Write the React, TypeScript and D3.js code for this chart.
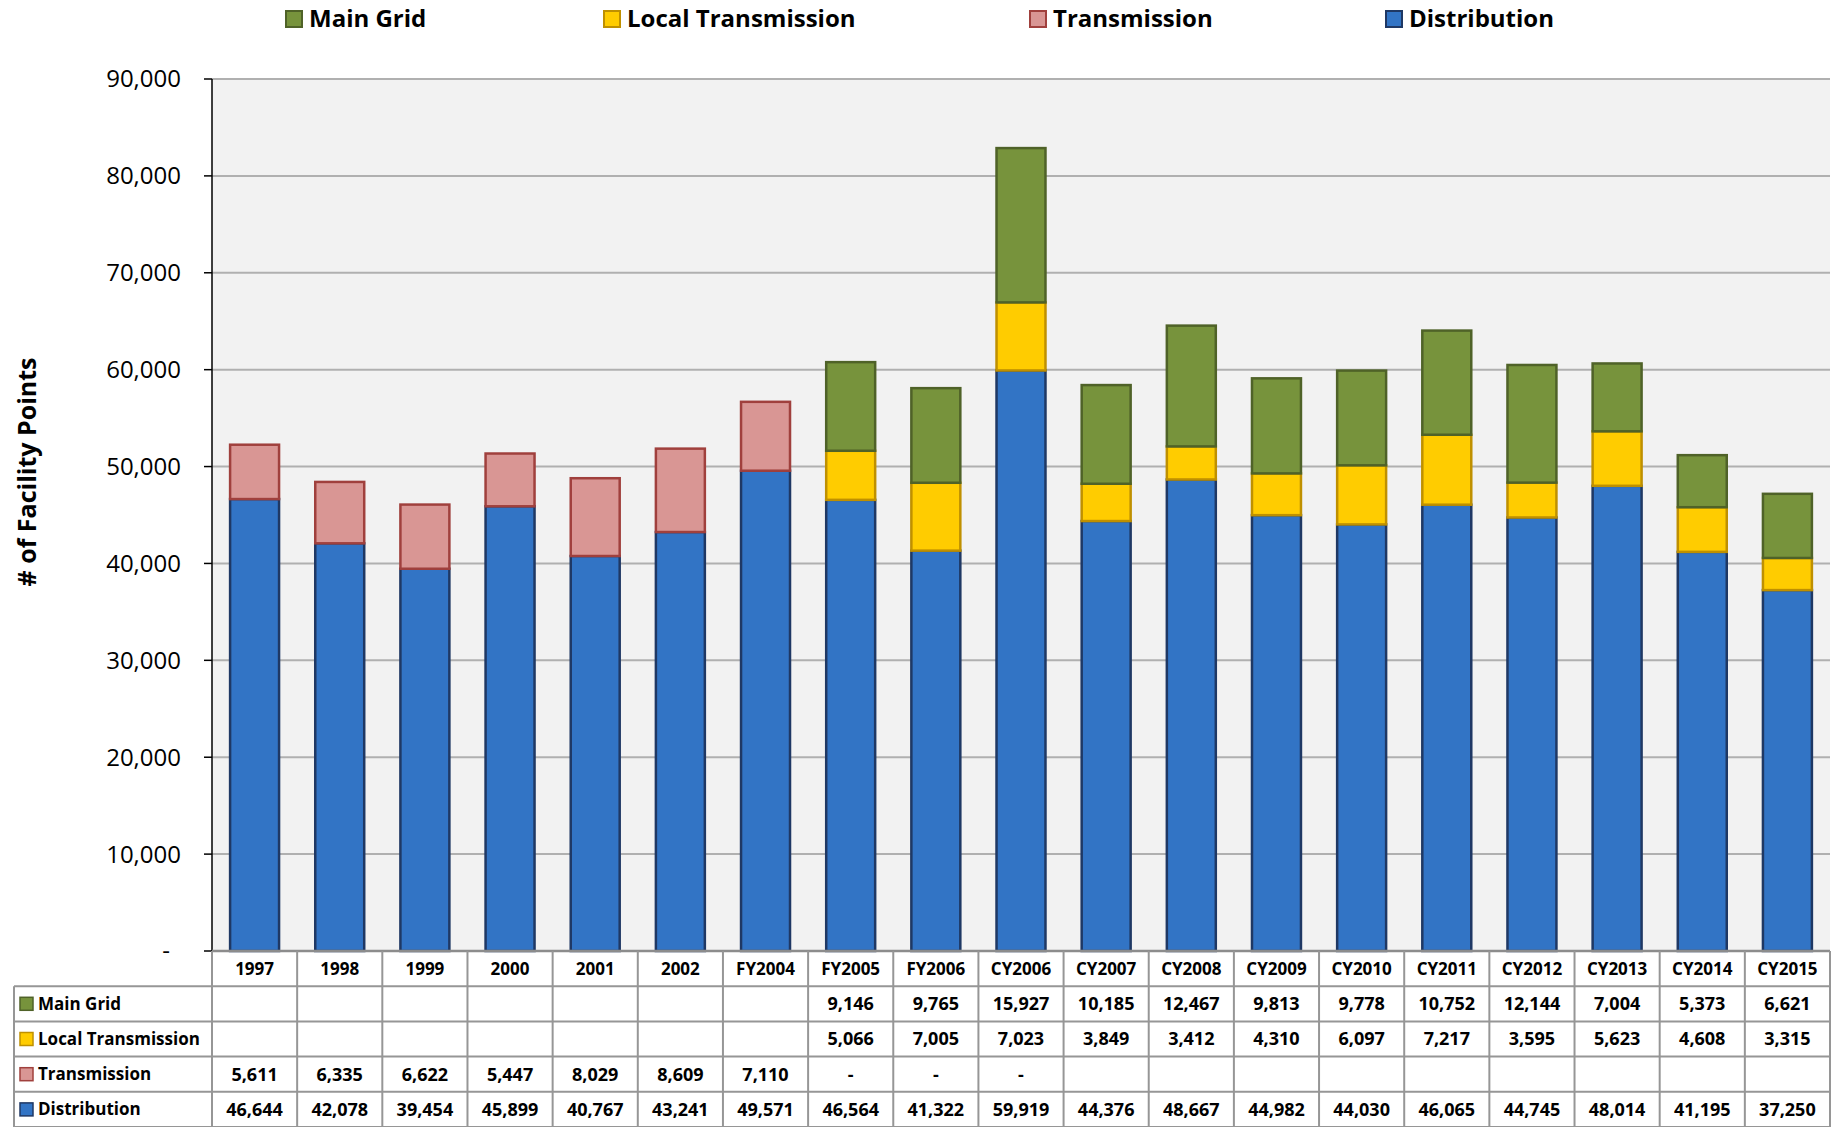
import * as d3 from 'd3';
import React from 'react';

const categories = [
  '1997', '1998', '1999', '2000', '2001', '2002', 'FY2004', 'FY2005', 'FY2006', 'CY2006',
  'CY2007', 'CY2008', 'CY2009', 'CY2010', 'CY2011', 'CY2012', 'CY2013', 'CY2014', 'CY2015',
];
// null = empty table cell, 0 = shown as "-"
const mainGrid = [null, null, null, null, null, null, null, 9146, 9765, 15927, 10185, 12467, 9813, 9778, 10752, 12144, 7004, 5373, 6621];
const localTransmission = [null, null, null, null, null, null, null, 5066, 7005, 7023, 3849, 3412, 4310, 6097, 7217, 3595, 5623, 4608, 3315];
const transmission = [5611, 6335, 6622, 5447, 8029, 8609, 7110, 0, 0, 0, null, null, null, null, null, null, null, null, null];
const distribution = [46644, 42078, 39454, 45899, 40767, 43241, 49571, 46564, 41322, 59919, 44376, 48667, 44982, 44030, 46065, 44745, 48014, 41195, 37250];
const yTicks = [0, 10000, 20000, 30000, 40000, 50000, 60000, 70000, 80000, 90000];

const series = [
  { key: 'mainGrid', name: 'Main Grid', values: mainGrid, fill: '#77933c', stroke: '#4f6228' },
  { key: 'localTransmission', name: 'Local Transmission', values: localTransmission, fill: '#ffcc00', stroke: '#bf9000' },
  { key: 'transmission', name: 'Transmission', values: transmission, fill: '#d99694', stroke: '#a0403d' },
  { key: 'distribution', name: 'Distribution', values: distribution, fill: '#3274c5', stroke: '#1f3864' },
];
const stackOrder = ['distribution', 'transmission', 'localTransmission', 'mainGrid'];

const W = 1845;
const H = 1127;
const left = 212;
const right = 1830;
const top = 79;
const bottom = 951;
const rowH = 35.2;
const FONT = '"Open Sans", "DejaVu Sans", sans-serif';

export default function App() {
  const x = d3.scaleBand().domain(categories).range([left, right]).paddingInner(0.425).paddingOuter(0.2125);
  const y = d3.scaleLinear().domain([0, 90000]).range([bottom, top]);
  const step = x.step();
  const cellLeft = (c) => x(c) - (step - x.bandwidth()) / 2;
  const fmt = d3.format(',');

  const rows = categories.map((c, i) => {
    const r = { cat: c };
    series.forEach((s) => (r[s.key] = s.values[i] || 0));
    return r;
  });
  const stacked = d3.stack().keys(stackOrder)(rows);
  const byKey = Object.fromEntries(series.map((s) => [s.key, s]));

  const legendItems = [
    { s: series[0], x: 286 },
    { s: series[1], x: 604 },
    { s: series[2], x: 1030 },
    { s: series[3], x: 1386 },
  ];

  return (
    <svg width={W} height={H} style={{ position: 'absolute', left: 0, top: 0, background: '#fff' }} fontFamily={FONT}>
      {/* legend */}
      {legendItems.map(({ s, x: lx }) => (
        <g key={s.key}>
          <rect x={lx} y={11} width={16} height={16} fill={s.fill} stroke={s.stroke} strokeWidth={2} />
          <text x={lx + 23} y={19} dy="0.35em" fontSize={24} fontWeight="bold" fill="#000">
            {s.name}
          </text>
        </g>
      ))}

      {/* plot background */}
      <rect x={left} y={top} width={right - left} height={bottom - top} fill="#f2f2f2" />

      {/* gridlines and ticks */}
      {yTicks.map((t) => (
        <g key={t}>
          {t > 0 && <line x1={left} x2={right} y1={y(t)} y2={y(t)} stroke="#b0b0b0" strokeWidth={2} />}
          <line x1={left - 8} x2={left} y1={y(t)} y2={y(t)} stroke="#000" strokeWidth={1.5} />
          <text
            x={t === 0 ? 170 : 181}
            y={y(t)}
            dy="0.35em"
            textAnchor="end"
            fontSize={24}
            fill="#000"
          >
            {t === 0 ? '-' : fmt(t)}
          </text>
        </g>
      ))}

      {/* y axis title */}
      <text
        transform={`translate(27,${(top + bottom) / 2 - 43}) rotate(-90)`}
        textAnchor="middle"
        dy="0.35em"
        fontSize={25}
        fontWeight="bold"
        fill="#000"
      >
        # of Facility Points
      </text>

      {/* bars */}
      {stacked.map((layer) => {
        const s = byKey[layer.key];
        return (
          <g key={layer.key}>
            {layer.map((d, i) =>
              d[1] - d[0] > 0 ? (
                <rect
                  key={i}
                  x={x(categories[i])}
                  y={y(d[1])}
                  width={x.bandwidth()}
                  height={y(d[0]) - y(d[1])}
                  fill={s.fill}
                  stroke={s.stroke}
                  strokeWidth={2.5}
                />
              ) : null
            )}
          </g>
        );
      })}

      {/* left axis line */}
      <line x1={left} x2={left} y1={top} y2={bottom} stroke="#000" strokeWidth={1.5} />

      {/* data table */}
      <g>
        {/* horizontal lines */}
        <line x1={left} x2={right} y1={bottom} y2={bottom} stroke="#8c8c8c" strokeWidth={2.5} />
        {[1, 2, 3, 4, 5].map((k) => (
          <line key={k} x1={14} x2={right} y1={bottom + k * rowH} y2={bottom + k * rowH} stroke="#969696" strokeWidth={2} />
        ))}
        {/* vertical lines */}
        <line x1={14} x2={14} y1={bottom + rowH} y2={H} stroke="#969696" strokeWidth={2} />
        <line x1={left} x2={left} y1={bottom} y2={H} stroke="#969696" strokeWidth={2} />
        {categories.map((c) => (
          <line
            key={c}
            x1={cellLeft(c) + step}
            x2={cellLeft(c) + step}
            y1={bottom}
            y2={H}
            stroke="#969696"
            strokeWidth={2}
          />
        ))}
        {/* header labels */}
        {categories.map((c) => (
          <text
            key={c}
            x={x(c) + x.bandwidth() / 2}
            y={bottom + rowH / 2}
            dy="0.35em"
            textAnchor="middle"
            fontSize={17}
            fontWeight="bold"
            fill="#000"
          >
            {c}
          </text>
        ))}
        {/* rows */}
        {series.map((s, r) => {
          const cy = bottom + (r + 1.5) * rowH;
          return (
            <g key={s.key}>
              <rect x={20} y={cy - 6.5} width={13} height={13} fill={s.fill} stroke={s.stroke} strokeWidth={1.5} />
              <text x={38} y={cy} dy="0.35em" fontSize={17} fontWeight="bold" fill="#000">
                {s.name}
              </text>
              {s.values.map((v, i) =>
                v === null ? null : (
                  <text
                    key={i}
                    x={x(categories[i]) + x.bandwidth() / 2}
                    y={cy}
                    dy="0.35em"
                    textAnchor="middle"
                    fontSize={18}
                    fontWeight="bold"
                    fill="#000"
                  >
                    {v === 0 ? '-' : fmt(v)}
                  </text>
                )
              )}
            </g>
          );
        })}
      </g>
    </svg>
  );
}
